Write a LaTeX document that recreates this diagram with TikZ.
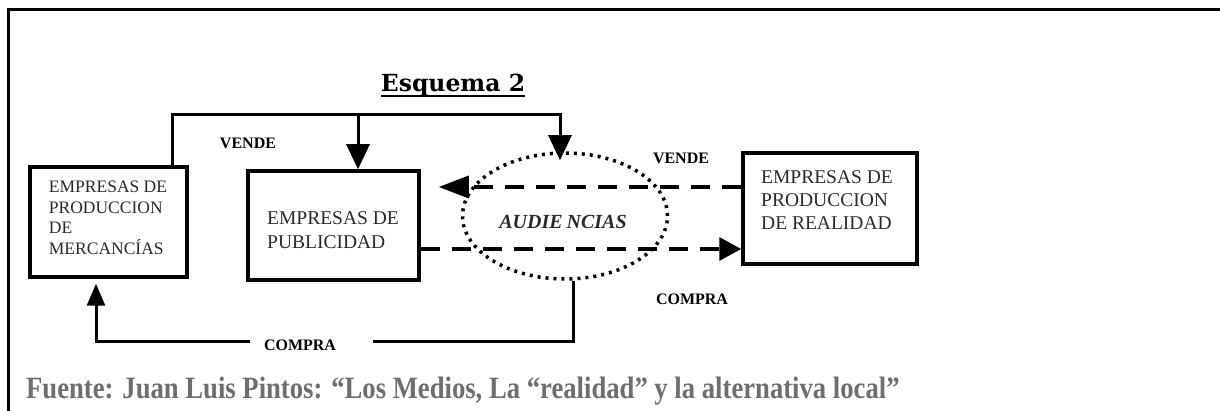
\documentclass[tikz,border=0pt]{standalone}
\usepackage{fontspec}
\setmainfont{Liberation Serif}
\newfontfamily\titlefont{DejaVu Serif}
\newfontfamily\srcfont[FakeStretch=0.86]{Liberation Serif}
\usetikzlibrary{arrows.meta,shapes.geometric}
\definecolor{srcgray}{HTML}{6E6E6E}
\definecolor{boxtext}{HTML}{2A2A2A}
\begin{document}
\begin{tikzpicture}[x=1pt,y=-1pt,
  boxframe/.style={draw, line width=3.5pt, inner sep=0pt},
  boxtxt/.style={align=left, text=boxtext, inner sep=0pt},
  lbl/.style={font=\bfseries\fontsize{16}{18}\selectfont, inner sep=0pt},
  conn/.style={line width=3pt},
  tipdown/.style={-{Triangle[length=25pt,width=23pt]}},
  tipup/.style={-{Triangle[length=22pt,width=18pt]}},
  dashconn/.style={line width=3.5pt, dash pattern=on 19pt off 12pt},
  tipleft/.style={-{Triangle[length=30pt,width=22pt]}},
  tipright/.style={-{Triangle[length=22pt,width=23pt]}}
]
\useasboundingbox (0,0) rectangle (1220,411);
% frame
\draw[line width=2.5pt] (8.5,411) -- (8.5,9.5) -- (1220,9.5);

% title
\node[anchor=base, inner sep=0pt, font=\titlefont\bfseries\fontsize{23.5}{28}\selectfont] (title) at (453,92) {Esquema 2};
\draw[line width=2pt] ([yshift=-4pt]title.base west) -- ([yshift=-4pt]title.base east);

% boxes
\node[boxframe, minimum width=157pt, minimum height=110pt] (merc) at (108.5,222) {};
\node[boxtxt, font=\fontsize{17.5}{20.5}\selectfont] (merctxt) at (108,218) {EMPRESAS DE\\PRODUCCION\\DE\\MERCANCÍAS};

\node[boxframe, minimum width=171pt, minimum height=109pt] (pub) at (333.5,225.5) {};
\node[boxtxt, font=\fontsize{19.5}{24}\selectfont] (pubtxt) at (333,230) {EMPRESAS DE\\PUBLICIDAD};

\node[boxframe, minimum width=174pt, minimum height=111pt] (real) at (830,208.5) {};
\node[boxtxt, font=\fontsize{19.5}{23}\selectfont] (realtxt) at (827,200) {EMPRESAS DE\\PRODUCCION\\DE REALIDAD};

% audiences ellipse
\node[draw, ellipse, line width=3.5pt, dash pattern=on 3pt off 5pt, minimum width=205pt, minimum height=126pt, inner sep=0pt] (aud) at (565,216) {};
\node[inner sep=0pt, text=boxtext, font=\bfseries\itshape\fontsize{20}{24}\selectfont] (audtxt) at (563,222) {AUDIE\kern4pt NCIAS};

% labels
\node[lbl] (vende1) at (248,143) {VENDE};
\node[lbl] (vende2) at (681,158) {VENDE};
\node[lbl] (compra2) at (692,299) {COMPRA};
\node[lbl] (compra1) at (300,345) {COMPRA};

% top selling connectors
\coordinate (sellL) at (172,115);
\coordinate (sellM) at (358,115);
\coordinate (sellR) at (560,115);
\draw[conn, tipdown] (merc.north -| sellL) -- (sellL) -- (sellR) -- ([yshift=-9pt]aud.north -| sellR);
\draw[conn, tipdown] (sellM) -- (sellM |- pub.north);

% bottom buying connector
\coordinate (buyR) at (573,342);
\coordinate (gapR) at (373,342);
\coordinate (gapL) at (250,342);
\coordinate (buyL) at (96,342);
\draw[conn] (aud.south -| buyR) -- (buyR) -- (gapR);
\draw[conn, tipup] (gapL) -- (buyL) -- ([yshift=-5pt]merc.south -| buyL);

% dashed connectors
\coordinate (dashT) at (680,187);
\coordinate (dashB) at (680,249);
\draw[dashconn, tipleft, shorten >=18pt] (real.west |- dashT) -- (pub.east |- dashT);
\draw[dashconn, tipright] (pub.east |- dashB) -- (real.west |- dashB);

% source
\node[anchor=base west, inner sep=0pt, text=srcgray, font=\srcfont\bfseries\fontsize{31}{36}\selectfont] (src) at (26,398) {Fuente: Juan Luis Pintos: “Los Medios, La “realidad” y la alternativa local”};
\end{tikzpicture}
\end{document}
